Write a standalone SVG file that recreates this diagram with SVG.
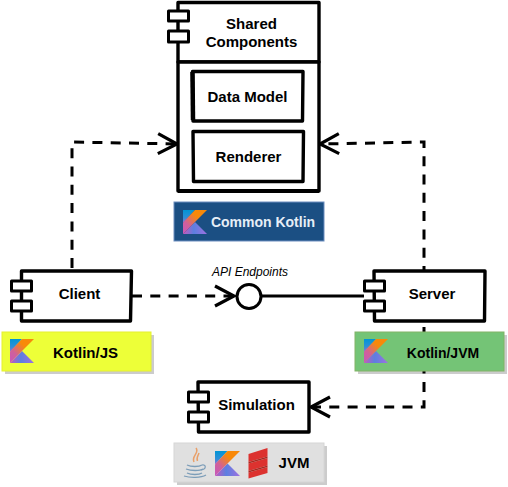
<svg xmlns="http://www.w3.org/2000/svg" width="508" height="487" viewBox="0 0 508 487">
<style>
.b{fill:#fff;stroke:#000;stroke-width:3.400;stroke-linejoin:round}
.p{fill:#fff;stroke:#000;stroke-width:3;stroke-linejoin:round}
.c{fill:none;stroke:#000;stroke-width:3}
.d{stroke-dasharray:10 8.300}
.t{font-family:"Liberation Sans",Arial,sans-serif;font-size:15px;font-weight:bold;text-anchor:middle;fill:#000}
.s{fill:#000;fill-opacity:.2}
</style>
<defs>
<linearGradient id="g2" x1="0" y1="1" x2="1" y2="0"><stop offset="0" stop-color="#c757bc"/><stop offset=".3" stop-color="#d0609a"/><stop offset=".65" stop-color="#f88909"/><stop offset="1" stop-color="#f88909"/></linearGradient>
<linearGradient id="g3" x1="0" y1="0" x2="0" y2="1"><stop offset="0" stop-color="#0095d5"/><stop offset=".6" stop-color="#2f8fd8"/><stop offset="1" stop-color="#9a6fd0"/></linearGradient>
<linearGradient id="g4" x1="0" y1="0" x2="1" y2="0"><stop offset="0" stop-color="#c757bc"/><stop offset=".45" stop-color="#5c7fe0"/><stop offset="1" stop-color="#a070e0"/></linearGradient>
<symbol id="kt" viewBox="0 0 24 24">
<path d="M0 24 12 12 24 24Z" fill="url(#g4)"/>
<path d="M0 0H12L0 13Z" fill="url(#g3)"/>
<path d="M12 0H24L12 12 0 24V12.600Z" fill="url(#g2)"/>
</symbol>
<marker id="a" markerUnits="userSpaceOnUse" markerWidth="26" markerHeight="26" refX="20" refY="13" orient="auto"><path d="M1 3 20 13 1 23" fill="none" stroke="#000" stroke-width="3.200"/></marker>
</defs>

<g id="connectors">
<path class="c d" d="M72 268V142L177 144" marker-end="url(#a)"/>
<path class="c d" d="M424 276V142L320 144" marker-end="url(#a)"/>
<path class="c d" d="M424 327V407H311" marker-end="url(#a)"/>
<path class="c d" d="M132 296H234" marker-end="url(#a)"/>
<path class="c" d="M261 296H364"/>
</g>

<g id="shared-components">
<path class="b" d="M178 2.500H319V62H178Z"/>
<rect class="p" x="168.500" y="11" width="20" height="10"/>
<rect class="p" x="168.500" y="31" width="20" height="11"/>
<text class="t" x="251.500" y="29">Shared</text>
<text class="t" x="251.500" y="47">Components</text>
</g>
<g id="shared-body">
<path class="b" d="M178 62H319V191H178Z"/>
<path d="M178 191H319" fill="none" stroke="#000" stroke-width="4"/>
</g>
<g id="data-model">
<path class="b" d="M192.500 71.500H303L302.500 121H193Z"/>
<path d="M192.500 72 193 120" fill="none" stroke="#000" stroke-width="4.500"/>
<text class="t" x="247.500" y="102">Data Model</text>
</g>
<g id="renderer">
<path class="b" d="M193 131.500H303.500L303 181.500H193.500Z"/>
<text class="t" x="248.500" y="162">Renderer</text>
</g>
<g id="common-kotlin">
<rect x="174" y="202" width="150" height="39" fill="#1b4f83" stroke="#6c8ebf" stroke-width="1"/>
<use href="#kt" x="183" y="210" width="24" height="24"/>
<text class="t" x="263" y="227" style="fill:#e6eef7;font-size:14px">Common Kotlin</text>
</g>

<g id="client">
<path class="b" d="M21.500 271H131.500L130.500 321H21.500Z"/>
<rect class="p" x="11.500" y="281" width="20" height="10"/>
<rect class="p" x="11.500" y="301" width="20" height="10"/>
<text class="t" x="79.500" y="299">Client</text>
</g>
<g id="kotlin-js">
<rect class="s" x="5" y="335" width="149" height="39"/>
<rect x="2" y="332" width="149" height="39" fill="#edff38" stroke="#e6f02e" stroke-width="1"/>
<use href="#kt" x="10" y="339" width="24" height="24"/>
<text class="t" x="85.500" y="358">Kotlin/JS</text>
</g>

<g id="api-endpoints">
<circle cx="249" cy="296.500" r="12" fill="#fff" stroke="#000" stroke-width="3"/>
<text x="250" y="276" font-family="'Liberation Sans',Arial,sans-serif" font-size="12" font-style="italic" text-anchor="middle" fill="#000">API Endpoints</text>
</g>

<g id="server">
<path class="b" d="M374 271H485L484.500 321H374.500Z"/>
<rect class="p" x="364.500" y="281" width="20" height="10"/>
<rect class="p" x="364.500" y="301" width="20" height="10"/>
<text class="t" x="432" y="299">Server</text>
</g>
<g id="kotlin-jvm">
<rect class="s" x="358" y="335" width="149" height="39"/>
<rect x="355" y="332" width="149" height="39" fill="#74c476" stroke="#82b366" stroke-width="1"/>
<use href="#kt" x="364" y="339" width="24" height="24"/>
<text class="t" x="443" y="358" style="font-size:14px">Kotlin/JVM</text>
</g>

<g id="simulation">
<path class="b" d="M198 382H309L309 432H198.500Z"/>
<rect class="p" x="188.500" y="392" width="20" height="10"/>
<rect class="p" x="188.500" y="412" width="20" height="10"/>
<text class="t" x="256.500" y="410">Simulation</text>
</g>
<g id="jvm">
<rect class="s" x="177" y="446" width="150" height="39"/>
<rect x="174" y="443" width="150" height="39" fill="#e0e0e0" stroke="#d6d6d6" stroke-width="1"/>
<g id="java-icon" fill="none">
<path d="M196 448C200 453 191 456 194 462M199 453C198 456 196 458 197.500 461" stroke="#e9a06a" stroke-width="1.500"/>
<path d="M187 465C191 467 199 467 202 465M186 469C191 471 200 471 203 469M187 473C191 475 199 475 202 473M184 476C190 478 201 478 206 475" stroke="#7c9db8" stroke-width="1.300"/>
<path d="M202 465C206 464 207 469 201 470" stroke="#7c9db8" stroke-width="1.200"/>
</g>
<use href="#kt" x="215" y="451" width="25" height="25"/>
<g id="scala-icon">
<path d="M248.500 454 267.500 448V456.500L248.500 462Z" fill="#dc322f"/>
<path d="M248.500 463.500 267.500 458V465.500L248.500 471Z" fill="#dc322f"/>
<path d="M248.500 472.500 267.500 467V473L248.500 478.500Z" fill="#dc322f"/>
<path d="M248.500 462 267.500 456.500V458L248.500 463.500ZM248.500 471 267.500 465.500V467L248.500 472.500Z" fill="#a8271f"/>
</g>
<text class="t" x="294" y="468">JVM</text>
</g>
</svg>
